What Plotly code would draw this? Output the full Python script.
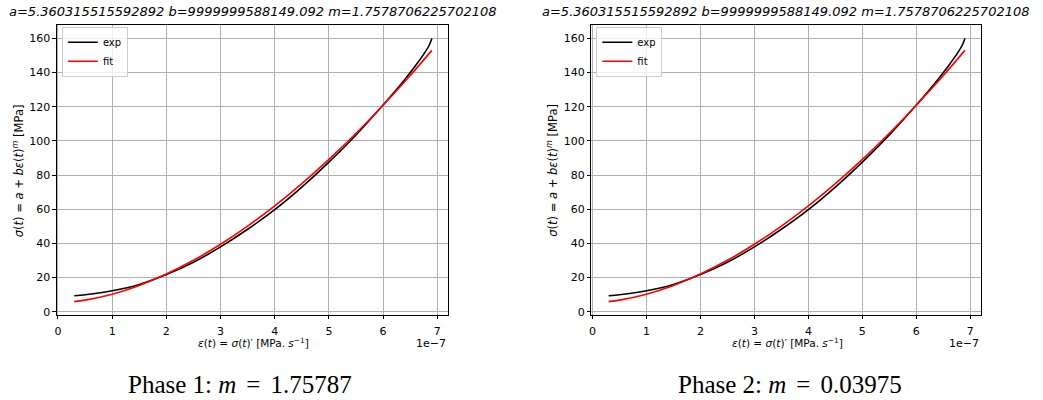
import plotly.graph_objects as go

# strain rate values (units of 1e-7)
eps_exp = [0.3, 0.5, 1.0, 1.5, 2.0, 2.5, 3.0, 3.5, 4.0, 4.5, 5.0, 5.5, 6.0, 6.2, 6.4, 6.6, 6.75, 6.85, 6.9]
sigma_exp = [9.4, 10.0, 12.3, 16.0, 21.8, 29.0, 38.0, 48.3, 59.8, 73.0, 87.6, 103.5, 121.0, 128.3, 136.0, 144.2, 150.8, 156.0, 160.0]
eps_fit = [0.3, 0.5, 1.0, 1.5, 2.0, 2.5, 3.0, 3.5, 4.0, 4.5, 5.0, 5.5, 6.0, 6.5, 6.9]
sigma_fit = [5.96, 6.82, 10.31, 15.46, 22.11, 30.15, 39.51, 50.15, 62.0, 75.02, 89.19, 104.48, 120.9, 138.3, 153.0]

x_ticks = [0, 1, 2, 3, 4, 5, 6, 7]
y_ticks = [0, 20, 40, 60, 80, 100, 120, 140, 160]
title_text = "a=5.360315515592892 b=9999999588149.092 m=1.7578706225702108"
phase_labels = ["Phase 1: ", "Phase 2: "]
phase_m = ["1.75787", "0.03975"]

W, H = 1043, 400
FONT = "DejaVu Sans"

fig = go.Figure()

panels = [
    dict(x0=55, x1=447, xa="x", ya="y", leg="legend", title_cx=251, cap_cx=238),
    dict(x0=590.5, x1=981, xa="x2", ya="y2", leg="legend2", title_cx=786, cap_cx=790),
]

for p in panels:
    fig.add_trace(go.Scatter(x=eps_exp, y=sigma_exp, mode="lines", name="exp",
                             line=dict(color="black", width=1.6, shape="spline", smoothing=0.8),
                             xaxis=p["xa"], yaxis=p["ya"], legend=p["leg"]))
    fig.add_trace(go.Scatter(x=eps_fit, y=sigma_fit, mode="lines", name="fit",
                             line=dict(color="red", width=1.6, shape="spline", smoothing=0.8),
                             xaxis=p["xa"], yaxis=p["ya"], legend=p["leg"]))

top_px, bot_px = 25, 318
ydom = [1 - bot_px / H, 1 - top_px / H]

def xaxis_cfg(p):
    return dict(domain=[p["x0"] / W, p["x1"] / W], range=[-0.02, 7.2], tickvals=x_ticks,
                showgrid=True, gridcolor="#b0b0b0", gridwidth=0.8, zeroline=False,
                ticks="outside", ticklen=3.5, tickwidth=0.8, tickcolor="black",
                showline=True, linecolor="black", linewidth=1, mirror=True,
                tickfont=dict(family=FONT, size=11, color="black"), ticklabelstandoff=2,
                anchor=p["ya"])

def yaxis_cfg(p):
    return dict(domain=ydom, range=[-1.76, 168], tickvals=y_ticks,
                showgrid=True, gridcolor="#b0b0b0", gridwidth=0.8, zeroline=False,
                ticks="outside", ticklen=3.5, tickwidth=0.8, tickcolor="black",
                showline=True, linecolor="black", linewidth=1, mirror=True,
                tickfont=dict(family=FONT, size=11, color="black"),
                anchor=p["xa"])

legend_cfg = lambda p: dict(x=(p["x0"] + 5) / W, y=1 - 27 / H, xanchor="left", yanchor="top",
                            bgcolor="rgba(255,255,255,0.8)", bordercolor="#cccccc", borderwidth=1,
                            font=dict(family=FONT, size=10, color="black"),
                            tracegroupgap=0, itemwidth=30)

annotations = []
for p in panels:
    off = p["x0"] - 55
    annotations.append(dict(text="<i>" + title_text + "</i>", x=p["title_cx"] / W, y=1 - 12 / H,
                            xref="paper", yref="paper", showarrow=False, xanchor="center", yanchor="middle",
                            font=dict(family=FONT, size=13, color="black")))
    annotations.append(dict(text="<i>σ</i>(<i>t</i>) = <i>a</i> + <i>bε</i>(<i>t</i>)<sup><i>m</i></sup> [MPa]",
                            x=(16 + off) / W, y=1 - 172 / H, xref="paper", yref="paper", showarrow=False,
                            textangle=-90, xanchor="center", yanchor="middle",
                            font=dict(family=FONT, size=11.5, color="black")))
    annotations.append(dict(text="<i>ε</i>(<i>t</i>) = <i>σ</i>(<i>t</i>)′ [MPa. <i>s</i><sup>−1</sup>]",
                            x=(252 + off) / W, y=1 - 346 / H, xref="paper", yref="paper", showarrow=False,
                            xanchor="center", yanchor="middle",
                            font=dict(family=FONT, size=10.5, color="black")))
    annotations.append(dict(text="1e−7", x=p["x1"] / W, y=1 - 338 / H, xref="paper", yref="paper",
                            showarrow=False, xanchor="right", yanchor="top",
                            font=dict(family=FONT, size=11, color="black")))

for p, lab, m in zip(panels, phase_labels, phase_m):
    annotations.append(dict(text=lab + "<i>m</i>&#8201;&#8201;=&#8201;&#8201;" + m,
                            x=p["cap_cx"] / W, y=1 - 388 / H, xref="paper", yref="paper", showarrow=False,
                            xanchor="center", yanchor="middle",
                            font=dict(family="Liberation Serif", size=25, color="black")))

fig.update_layout(
    width=W, height=H, margin=dict(l=0, r=0, t=0, b=0),
    paper_bgcolor="white", plot_bgcolor="white",
    xaxis=xaxis_cfg(panels[0]), yaxis=yaxis_cfg(panels[0]),
    xaxis2=xaxis_cfg(panels[1]), yaxis2=yaxis_cfg(panels[1]),
    legend=legend_cfg(panels[0]), legend2=legend_cfg(panels[1]),
    annotations=annotations, showlegend=True,
)

fig.write_html("out.html")
